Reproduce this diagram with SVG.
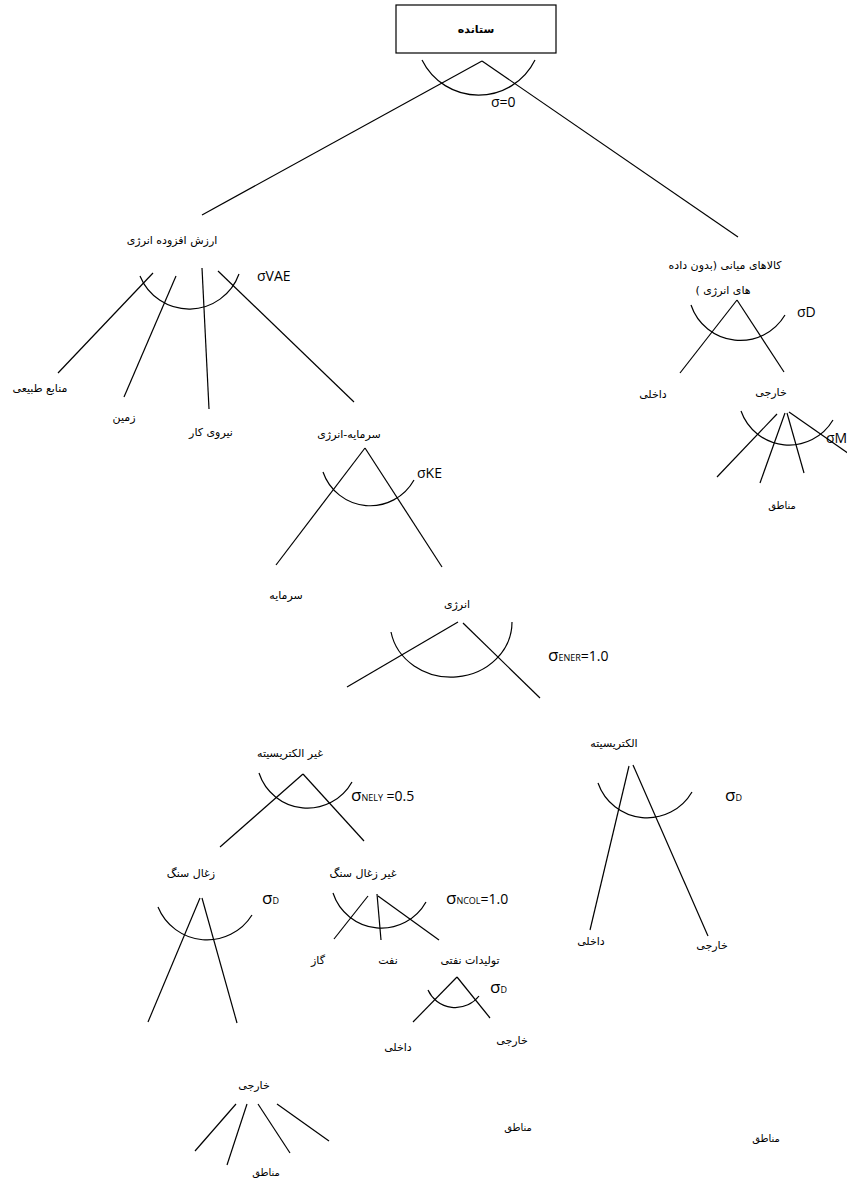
<svg xmlns="http://www.w3.org/2000/svg" width="847" height="1180" viewBox="0 0 847 1180">
  <style>
    .ln { stroke: #000; stroke-width: 1.2; fill: none; }
    .fa { font-family: "DejaVu Sans", sans-serif; font-size: 11px; fill: #000; text-anchor: middle; }
    .fa-s { font-size: 10px; }
    .rtl { direction: rtl; unicode-bidi: embed; }
    .sg { font-family: "Open Sans", "Liberation Sans", sans-serif; font-size: 14px; fill: #000; }
    .sub { font-size: 9px; }
    .big { font-size: 17px; }
  </style>

  <rect width="847" height="1180" fill="#fff"/>

  <!-- connectors: branch lines and substitution arcs -->
  <g id="connectors">
    <!-- output -->
    <path class="ln" d="M422,60 A63,63 0 0 0 535,60"/>
    <line class="ln" x1="482" y1="61" x2="202" y2="215"/>
    <line class="ln" x1="482" y1="61" x2="738" y2="237"/>

    <!-- value added -->
    <path class="ln" d="M140,276 A53,53 0 0 0 239,274"/>
    <line class="ln" x1="153" y1="273" x2="58" y2="373"/>
    <line class="ln" x1="176" y1="276" x2="124" y2="397"/>
    <line class="ln" x1="202" y1="268" x2="209" y2="409"/>
    <line class="ln" x1="218" y1="271" x2="354" y2="402"/>

    <!-- intermediate goods -->
    <path class="ln" d="M691,305 A52,52 0 0 0 785,315"/>
    <line class="ln" x1="737" y1="300" x2="680" y2="373"/>
    <line class="ln" x1="737" y1="300" x2="784" y2="372"/>

    <!-- imports by region -->
    <path class="ln" d="M741,411 A51,51 0 0 0 833,420"/>
    <line class="ln" x1="777" y1="414" x2="717" y2="477"/>
    <line class="ln" x1="785" y1="413" x2="760" y2="483"/>
    <line class="ln" x1="787" y1="413" x2="804" y2="473"/>
    <line class="ln" x1="789" y1="412" x2="849" y2="454"/>

    <!-- capital-energy -->
    <path class="ln" d="M323,472 A50,50 0 0 0 414,480"/>
    <line class="ln" x1="365" y1="448" x2="276" y2="565"/>
    <line class="ln" x1="365" y1="448" x2="442" y2="567"/>

    <!-- energy -->
    <path class="ln" d="M391,632 A61,55 0 0 0 512,622"/>
    <line class="ln" x1="458" y1="622" x2="347" y2="687"/>
    <line class="ln" x1="463" y1="623" x2="540" y2="698"/>

    <!-- non-electricity -->
    <path class="ln" d="M259,773 A51,51 0 0 0 352,782"/>
    <line class="ln" x1="303" y1="774" x2="220" y2="847"/>
    <line class="ln" x1="303" y1="774" x2="364" y2="841"/>

    <!-- coal -->
    <path class="ln" d="M158,907 A53,53 0 0 0 252,915"/>
    <line class="ln" x1="200" y1="898" x2="148" y2="1022"/>
    <line class="ln" x1="202" y1="898" x2="237" y2="1023"/>

    <!-- non-coal -->
    <path class="ln" d="M333,893 A51,51 0 0 0 426,902"/>
    <line class="ln" x1="368" y1="896" x2="334" y2="939"/>
    <line class="ln" x1="377" y1="894" x2="381" y2="940"/>
    <line class="ln" x1="378" y1="896" x2="439" y2="940"/>

    <!-- oil products -->
    <path class="ln" d="M428,990 A30,30 0 0 0 479,996"/>
    <line class="ln" x1="457" y1="977" x2="413" y2="1022"/>
    <line class="ln" x1="457" y1="977" x2="490" y2="1018"/>

    <!-- electricity -->
    <path class="ln" d="M598,783 A52,52 0 0 0 692,792"/>
    <line class="ln" x1="629" y1="766" x2="590" y2="930"/>
    <line class="ln" x1="633" y1="765" x2="708" y2="936"/>

    <!-- coal imports by region -->
    <line class="ln" x1="236" y1="1104" x2="195" y2="1151"/>
    <line class="ln" x1="247" y1="1104" x2="227" y2="1165"/>
    <line class="ln" x1="258" y1="1104" x2="290" y2="1153"/>
    <line class="ln" x1="277" y1="1104" x2="329" y2="1141"/>
  </g>

  <!-- nodes -->
  <g id="output">
    <rect x="396" y="5" width="160" height="48" fill="#fff" stroke="#000" stroke-width="1.2"/>
    <text class="fa" x="476" y="33" font-weight="bold" font-size="13">ستانده</text>
  </g>
  <g id="sigma-output"><text class="sg" x="491" y="107" font-size="15">σ=0</text></g>

  <g id="value-added"><text class="fa" x="172" y="244">ارزش افزوده انرژی</text></g>
  <g id="sigma-vae"><text class="sg" x="257" y="281">σVAE</text></g>
  <g id="natural-resources"><text class="fa" x="40" y="392">منابع طبیعی</text></g>
  <g id="land"><text class="fa" x="124" y="421">زمین</text></g>
  <g id="labour"><text class="fa" x="211" y="436">نیروی کار</text></g>
  <g id="capital-energy"><text class="fa" x="349" y="438">سرمایه-انرژی</text></g>

  <g id="intermediate">
    <text class="fa rtl" direction="rtl" x="725" y="269">کالاهای میانی (بدون داده</text>
    <text class="fa rtl" direction="rtl" x="723" y="294">های انرژی )</text>
  </g>
  <g id="sigma-d-intermediate"><text class="sg" x="797" y="317">σD</text></g>
  <g id="intermediate-domestic"><text class="fa" x="653" y="398">داخلی</text></g>
  <g id="intermediate-foreign"><text class="fa" x="771" y="396">خارجی</text></g>
  <g id="sigma-m"><text class="sg" x="826" y="443">σM</text></g>
  <g id="intermediate-regions"><text class="fa fa-s" x="782" y="509">مناطق</text></g>

  <g id="sigma-ke"><text class="sg" x="417" y="478">σKE</text></g>
  <g id="capital"><text class="fa" x="286" y="599">سرمایه</text></g>
  <g id="energy"><text class="fa" x="457" y="608">انرژی</text></g>
  <g id="sigma-ener"><text class="sg" x="548" y="661"><tspan class="big">σ</tspan><tspan class="sub">ENER</tspan>=1.0</text></g>

  <g id="non-electricity"><text class="fa" x="290" y="757">غیر الکتریسیته</text></g>
  <g id="sigma-nely"><text class="sg" x="351" y="801"><tspan class="big">σ</tspan><tspan class="sub">NELY</tspan> =0.5</text></g>
  <g id="electricity"><text class="fa" x="614" y="747">الکتریسیته</text></g>
  <g id="sigma-d-electricity"><text class="sg" x="725" y="801"><tspan class="big">σ</tspan><tspan class="sub">D</tspan></text></g>

  <g id="coal"><text class="fa" x="191" y="877">زغال سنگ</text></g>
  <g id="sigma-d-coal"><text class="sg" x="262" y="904"><tspan class="big">σ</tspan><tspan class="sub">D</tspan></text></g>
  <g id="non-coal"><text class="fa" x="363" y="877">غیر زغال سنگ</text></g>
  <g id="sigma-ncol"><text class="sg" x="446" y="904"><tspan class="big">σ</tspan><tspan class="sub">NCOL</tspan>=1.0</text></g>

  <g id="gas"><text class="fa" x="318" y="964">گاز</text></g>
  <g id="oil"><text class="fa" x="388" y="964">نفت</text></g>
  <g id="oil-products"><text class="fa" x="470" y="964">تولیدات نفتی</text></g>
  <g id="sigma-d-oil"><text class="sg" x="490" y="993"><tspan class="big">σ</tspan><tspan class="sub">D</tspan></text></g>
  <g id="oil-domestic"><text class="fa" x="398" y="1051">داخلی</text></g>
  <g id="oil-foreign"><text class="fa" x="512" y="1044">خارجی</text></g>

  <g id="electricity-domestic"><text class="fa" x="591" y="945">داخلی</text></g>
  <g id="electricity-foreign"><text class="fa" x="712" y="949">خارجی</text></g>

  <g id="coal-foreign"><text class="fa" x="254" y="1089">خارجی</text></g>
  <g id="coal-regions"><text class="fa fa-s" x="266" y="1176">مناطق</text></g>
  <g id="oil-regions"><text class="fa fa-s" x="518" y="1131">مناطق</text></g>
  <g id="electricity-regions"><text class="fa fa-s" x="766" y="1142">مناطق</text></g>
</svg>
